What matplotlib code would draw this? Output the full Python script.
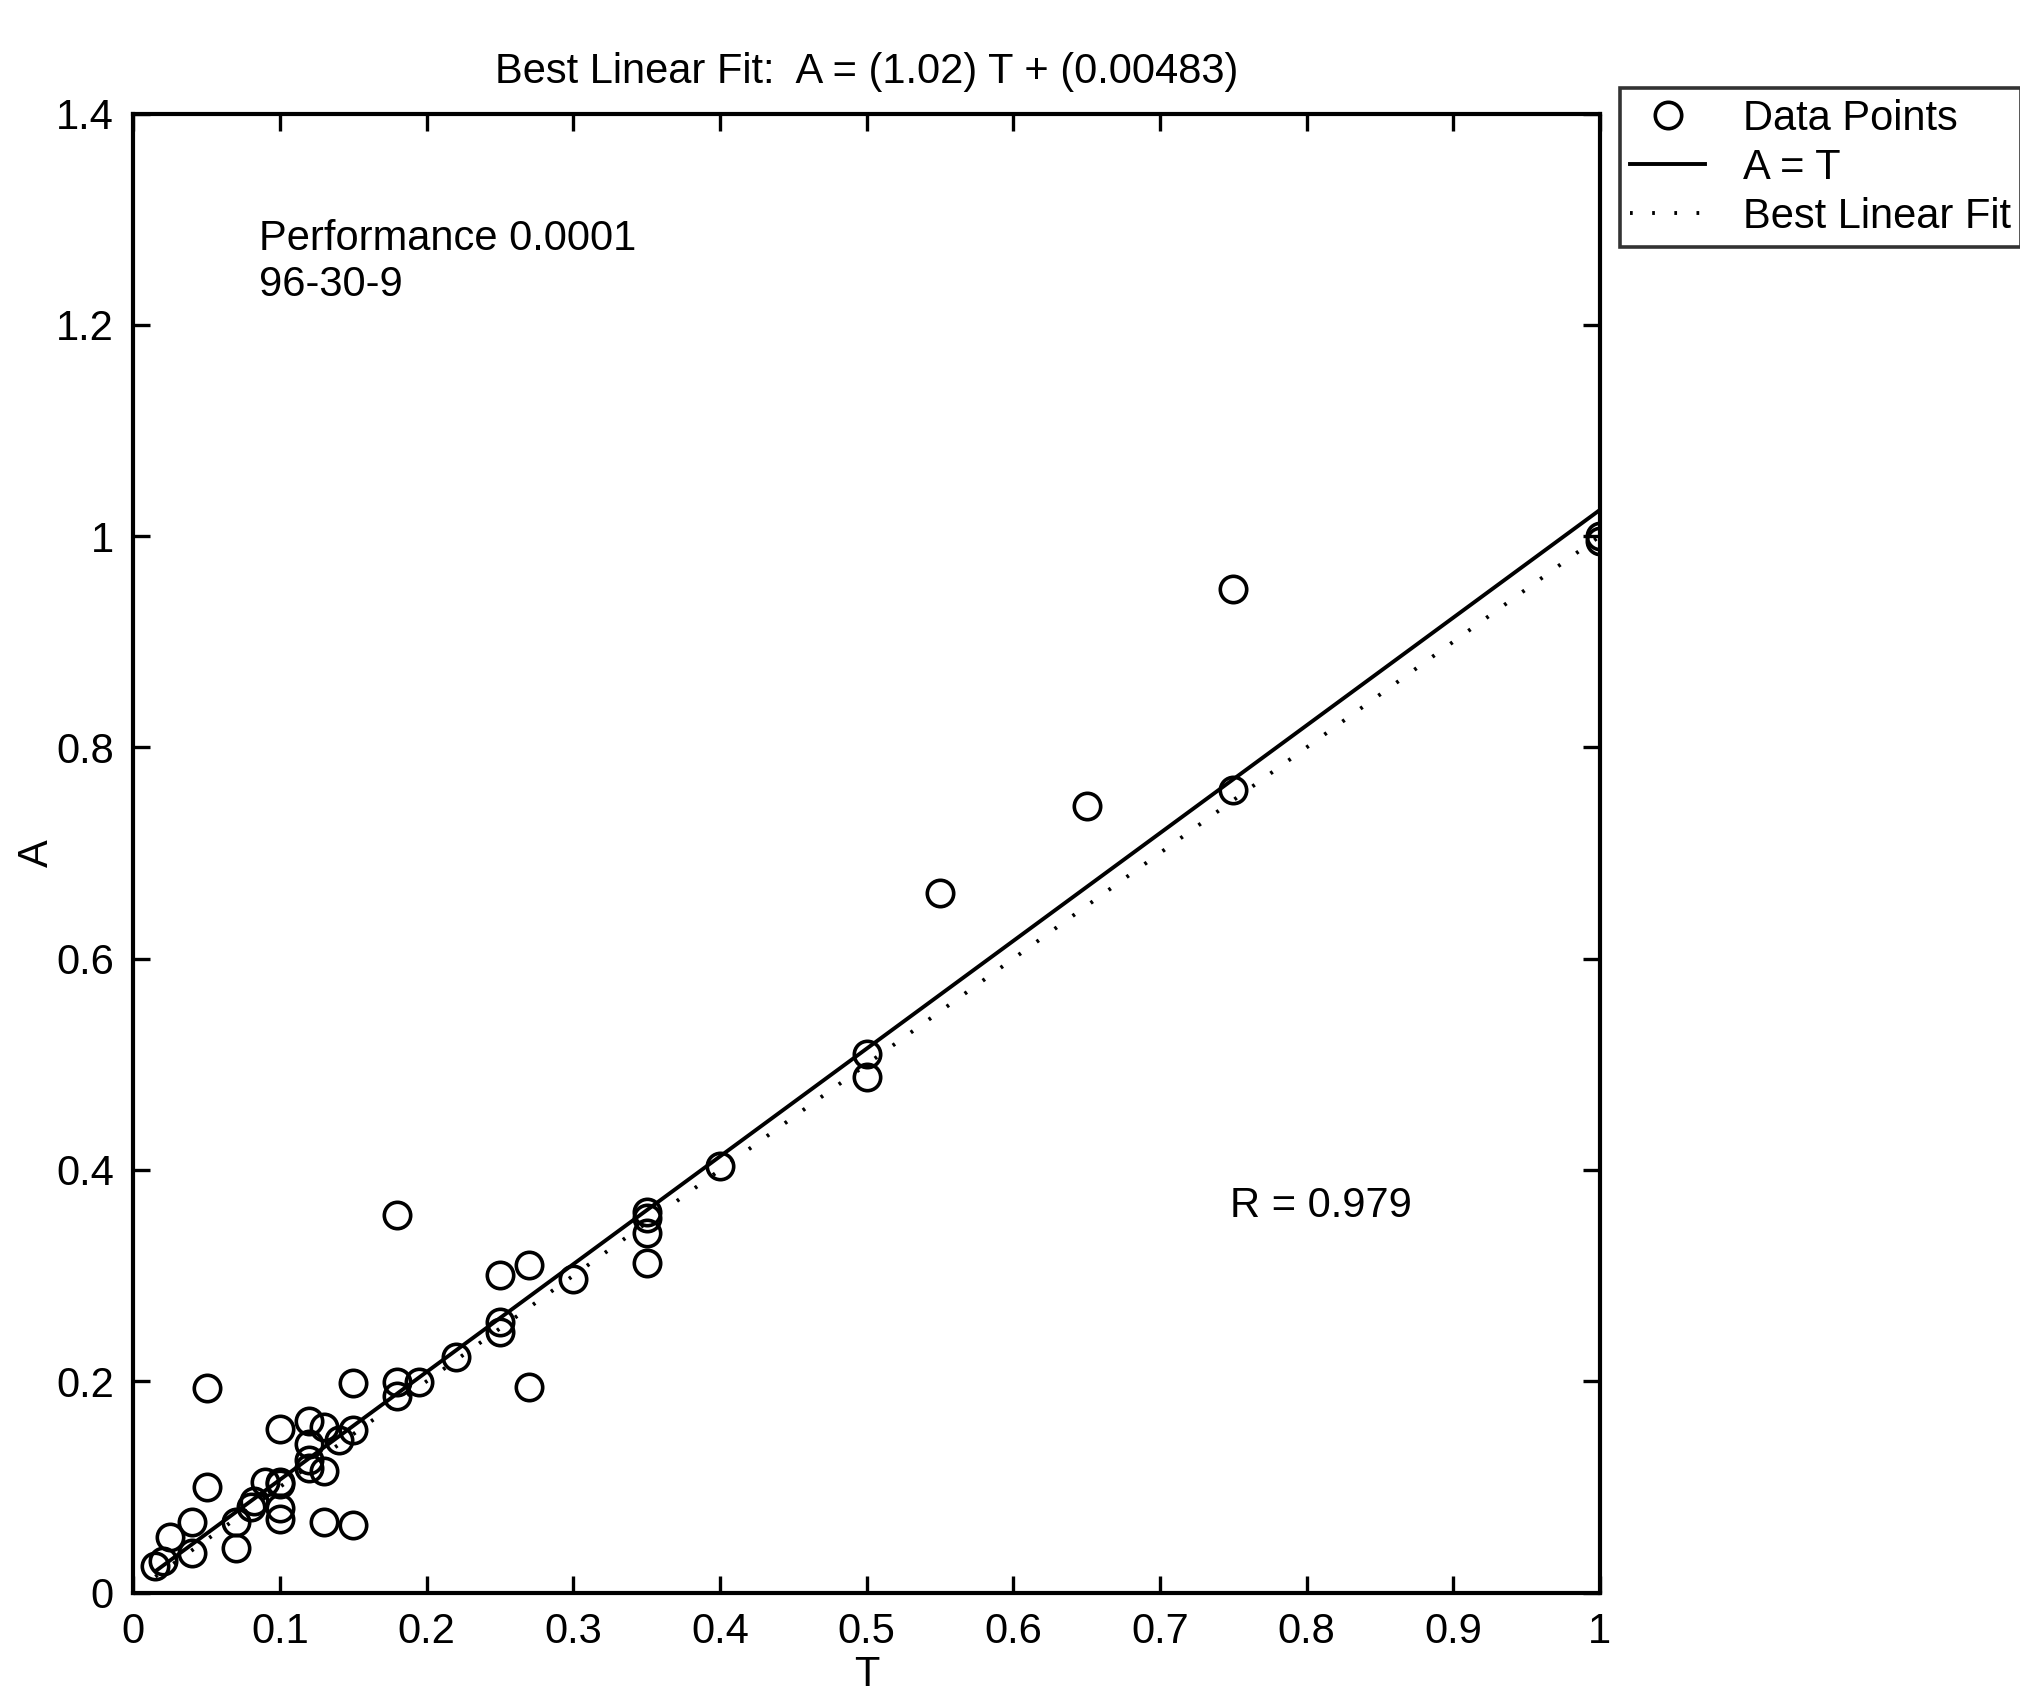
import matplotlib
matplotlib.use("Agg")
import matplotlib.pyplot as plt
import numpy as np

plt.rcParams['font.family'] = ['Liberation Sans', 'DejaVu Sans']

# Targets (T) and network outputs (A)
T = [0.015, 0.02, 0.025, 0.04, 0.04, 0.05, 0.05, 0.07, 0.07, 0.08,
     0.082, 0.09, 0.10, 0.10, 0.10, 0.10, 0.10, 0.12, 0.12, 0.12,
     0.12, 0.13, 0.13, 0.13, 0.14, 0.15, 0.15, 0.15, 0.18, 0.18,
     0.18, 0.195, 0.22, 0.25, 0.25, 0.25, 0.27, 0.27, 0.30, 0.35,
     0.35, 0.35, 0.35, 0.40, 0.50, 0.50, 0.55, 0.65, 0.75, 0.75,
     1.0, 1.0]
A = [0.025, 0.03, 0.053, 0.067, 0.037, 0.194, 0.10, 0.067, 0.042, 0.081,
     0.087, 0.105, 0.155, 0.105, 0.103, 0.080, 0.070, 0.162, 0.141, 0.118,
     0.125, 0.157, 0.115, 0.067, 0.144, 0.154, 0.198, 0.064, 0.357, 0.199,
     0.186, 0.199, 0.223, 0.301, 0.256, 0.247, 0.310, 0.195, 0.297, 0.360,
     0.355, 0.340, 0.312, 0.404, 0.510, 0.488, 0.662, 0.745, 0.950, 0.760,
     0.995, 1.0]

slope = 1.02
intercept = 0.00483
r_value = 0.979

x_ticks = [0, 0.1, 0.2, 0.3, 0.4, 0.5, 0.6, 0.7, 0.8, 0.9, 1]
x_labels = ['0', '0.1', '0.2', '0.3', '0.4', '0.5', '0.6', '0.7', '0.8', '0.9', '1']
y_ticks = [0, 0.2, 0.4, 0.6, 0.8, 1.0, 1.2, 1.4]
y_labels = ['0', '0.2', '0.4', '0.6', '0.8', '1', '1.2', '1.4']

fs = 30

fig = plt.figure(figsize=(20.2, 16.96), dpi=100)
ax = fig.add_axes([0.066, 0.061, 0.726, 0.872])

# line ends run from smallest to largest target
ends = np.array([min(T), max(T)])

ax.plot(T, A, 'o', mfc='none', mec='black', ms=19, mew=2.6, label='Data Points')
# the scan draws the fit solid and the identity dotted, legend as printed
ax.plot(ends, slope * ends + intercept, '-', color='black', lw=2.8, label='A = T')
ax.plot(ends, ends, linestyle=(0, (0.7, 5.0)), color='black', lw=2.8,
        label='Best Linear Fit')

ax.set_xlim(0, 1)
ax.set_ylim(0, 1.4)
ax.set_xticks(x_ticks)
ax.set_xticklabels(x_labels)
ax.set_yticks(y_ticks)
ax.set_yticklabels(y_labels)
ax.tick_params(direction='in', length=12, width=2.4, top=True, right=True,
               labelsize=fs, pad=14)
for s in ax.spines.values():
    s.set_linewidth(3.0)

ax.set_xlabel('T', fontsize=fs, labelpad=2)
ax.set_ylabel('A', fontsize=fs)
ax.yaxis.set_label_coords(-0.052, 0.5)
ax.set_title('Best Linear Fit:  A = (%.2f) T + (%.5f)' % (slope, intercept),
             fontsize=fs, pad=22)

ax.text(0.086, 1.30, 'Performance 0.0001\n96-30-9', fontsize=fs,
        va='top', ha='left', linespacing=1.2)
ax.text(0.748, 0.366, 'R = %.3f' % r_value, fontsize=fs, va='center', ha='left')

leg = fig.legend(loc='upper left', bbox_to_anchor=(0.802, 0.948), fontsize=fs,
                 frameon=True, fancybox=False, edgecolor='black',
                 handlelength=1.8, handletextpad=0.9, borderpad=0.25,
                 labelspacing=0.22, borderaxespad=0)
leg.get_frame().set_linewidth(2.6)

fig.savefig('out.png', dpi=100, facecolor='white')
